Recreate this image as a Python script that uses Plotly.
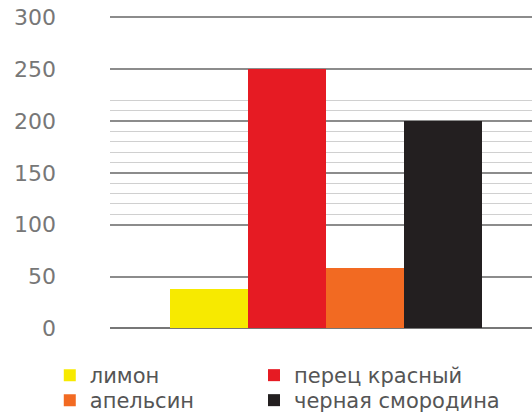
import plotly.graph_objects as go

series_names = ["лимон", "перец красный", "апельсин", "черная смородина"]
series_values = [38, 250, 58, 200]
series_colors = ["#f7ea00", "#e61b23", "#f26a22", "#231f20"]
legend_ids = ["legend", "legend2", "legend3", "legend4"]
category = [""]
y_tick_vals = [0, 50, 100, 150, 200, 250, 300]
y_tick_text = ["0", "50", "100", "150", "200", "250", "300"]
minor_vals = [110, 120, 130, 140, 160, 170, 180, 190, 210, 220]

fig = go.Figure()
for name, val, col, lg in zip(series_names, series_values, series_colors, legend_ids):
    fig.add_trace(go.Bar(
        x=category, y=[val], name=name, legend=lg,
        marker=dict(color=col, line=dict(width=0)),
    ))

legend_font = dict(family="DejaVu Sans", size=21, color="#555")
col_x = [-0.1427, 0.3412]
row_y = [-0.0823, -0.1614]
legend_pos = {
    "legend": (col_x[0], row_y[0]),
    "legend2": (col_x[1], row_y[0]),
    "legend3": (col_x[0], row_y[1]),
    "legend4": (col_x[1], row_y[1]),
}
legend_layout = {
    lg: dict(orientation="v", x=px, xanchor="left", y=py, yanchor="top",
             font=legend_font, itemclick=False, bgcolor="rgba(0,0,0,0)")
    for lg, (px, py) in legend_pos.items()
}

fig.update_layout(
    width=532, height=417,
    margin=dict(l=110, r=0, t=13, b=88, autoexpand=False),
    paper_bgcolor="white", plot_bgcolor="white",
    barmode="group", bargap=0, bargroupgap=0,
    font=dict(family="DejaVu Sans", color="#666"),
    showlegend=True,
    **legend_layout,
)
fig.update_xaxes(visible=False, range=[-0.692, 0.660])
fig.update_yaxes(
    range=[-0.5, 304],
    tickmode="array", tickvals=y_tick_vals, ticktext=y_tick_text,
    tickfont=dict(family="DejaVu Sans", size=22, color="#777"),
    showgrid=True, gridcolor="#8c8c8c", gridwidth=1.5,
    zeroline=True, zerolinecolor="#777", zerolinewidth=2,
    ticks="", ticklabelstandoff=53, ticklabeloverflow="allow",
    minor=dict(tickmode="array", tickvals=minor_vals, showgrid=True,
               gridcolor="#d0d0d0", gridwidth=1),
    showline=False, automargin=False,
)

fig.write_html("out.html", config={"displayModeBar": False},
               post_script="document.body.style.margin='0px';")
